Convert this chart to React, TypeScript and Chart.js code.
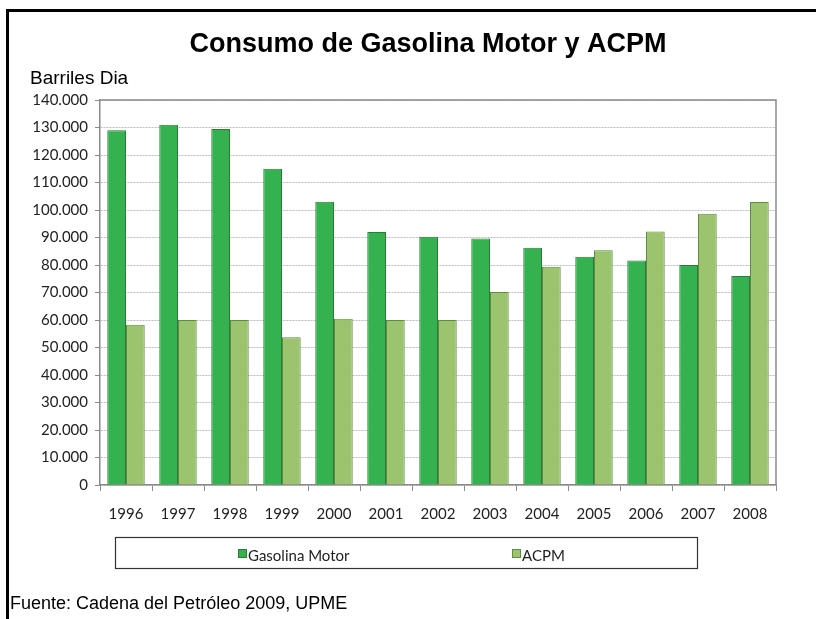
import React, { useEffect, useRef } from "react";
import { Chart, registerables } from "chart.js";

Chart.register(...registerables);

const years = ["1996", "1997", "1998", "1999", "2000", "2001", "2002", "2003", "2004", "2005", "2006", "2007", "2008"];
const gasolinaMotor = [129000, 131000, 129500, 115000, 103000, 92000, 90300, 89600, 86300, 83000, 81600, 80000, 76000];
const acpm = [58300, 60000, 60000, 53700, 60500, 60000, 60000, 70200, 79400, 85400, 92200, 98600, 102900];
const seriesLabels = ["Gasolina Motor", "ACPM"];
const yMin = 0;
const yMax = 140000;
const yStep = 10000;
const titleText = "Consumo de Gasolina Motor y ACPM";
const unitText = "Barriles Dia";
const sourceText = "Fuente: Cadena del Petróleo 2009, UPME";

const GAS_FILL = "#34B24F";
const GAS_BORDER = "#2E7A38";
const ACPM_FILL = "#9CC46F";
const ACPM_BORDER = "#5F8C40";

const fmt = (v: number) => {
  const s = Math.round(v).toString();
  return s.replace(/\B(?=(\d{3})+(?!\d))/g, ".");
};

const decorPlugin = {
  id: "decor",
  beforeDraw(chart: any) {
    const ctx = chart.ctx;
    ctx.save();
    ctx.fillStyle = "#ffffff";
    ctx.fillRect(0, 0, chart.width, chart.height);
    ctx.restore();
  },
  afterDraw(chart: any) {
    const ctx = chart.ctx;
    const area = chart.chartArea;
    ctx.save();
    // outer frame (top and left)
    ctx.fillStyle = "#000000";
    ctx.fillRect(6, 9, chart.width - 6, 3);
    ctx.fillRect(6, 9, 3, chart.height - 9);

    // plot top & right border
    ctx.strokeStyle = "#8a8a8a";
    ctx.lineWidth = 1.5;
    ctx.beginPath();
    ctx.moveTo(area.left, area.top);
    ctx.lineTo(area.right, area.top);
    ctx.lineTo(area.right, area.bottom);
    ctx.stroke();

    // title
    ctx.fillStyle = "#000000";
    ctx.font = "bold 27px 'Liberation Sans', Arial, sans-serif";
    ctx.textAlign = "center";
    ctx.textBaseline = "middle";
    ctx.fillText(titleText, 428, 45);

    // unit label
    ctx.font = "19px 'Liberation Sans', Arial, sans-serif";
    ctx.textAlign = "left";
    ctx.fillText(unitText, 30, 79);

    // legend box
    ctx.strokeStyle = "#333333";
    ctx.lineWidth = 1.2;
    ctx.strokeRect(115.5, 537.5, 582, 31);
    const ds = chart.data.datasets;
    const items = [
      { x: 238, label: ds[0].label, fill: ds[0].backgroundColor, border: ds[0].borderColor },
      { x: 512, label: ds[1].label, fill: ds[1].backgroundColor, border: ds[1].borderColor },
    ];
    ctx.font = "15px Lato, 'Open Sans', sans-serif";
    ctx.textBaseline = "middle";
    items.forEach((it) => {
      ctx.fillStyle = it.fill;
      ctx.fillRect(it.x, 549, 8, 8);
      ctx.strokeStyle = it.border;
      ctx.lineWidth = 1;
      ctx.strokeRect(it.x + 0.5, 549.5, 8, 8);
      ctx.fillStyle = "#222222";
      ctx.fillText(it.label, it.x + 10, 556);
    });

    // source
    ctx.fillStyle = "#000000";
    ctx.font = "18px 'Liberation Sans', Arial, sans-serif";
    ctx.textAlign = "left";
    ctx.fillText(sourceText, 10, 604);
    ctx.restore();
  },
};

export default function App() {
  const canvasRef = useRef<HTMLCanvasElement | null>(null);

  useEffect(() => {
    const canvas = canvasRef.current;
    if (!canvas) return;
    const chart = new Chart(canvas, {
      type: "bar",
      data: {
        labels: years,
        datasets: [
          {
            label: seriesLabels[0],
            data: gasolinaMotor,
            backgroundColor: GAS_FILL,
            borderColor: GAS_BORDER,
            borderWidth: 1,
            barPercentage: 1,
            categoryPercentage: 0.72,
          },
          {
            label: seriesLabels[1],
            data: acpm,
            backgroundColor: ACPM_FILL,
            borderColor: ACPM_BORDER,
            borderWidth: 1,
            barPercentage: 1,
            categoryPercentage: 0.72,
          },
        ],
      },
      options: {
        responsive: false,
        animation: false,
        devicePixelRatio: 1,
        layout: { padding: { left: 10, top: 100, right: 40, bottom: 89 } },
        plugins: {
          legend: { display: false },
          title: { display: false },
          tooltip: { enabled: false },
        },
        scales: {
          x: {
            afterFit: (s: any) => {
              s.height = 45;
            },
            grid: {
              display: true,
              offset: true,
              drawOnChartArea: false,
              drawTicks: true,
              tickLength: 6,
              color: "#8a8a8a",
              tickBorderDash: [],
            },
            border: { display: true, color: "#8a8a8a", width: 1.5 },
            ticks: {
              color: "#222222",
              font: { family: "Lato, 'Open Sans', sans-serif", size: 15 },
              padding: 14,
              maxRotation: 0,
            },
          },
          y: {
            min: yMin,
            max: yMax,
            afterFit: (s: any) => {
              s.width = 90;
            },
            grid: {
              color: "#bdbdbd",
              lineWidth: 1,
              drawTicks: true,
              tickLength: 5,
              tickColor: "#8a8a8a",
              tickBorderDash: [],
            },
            border: { display: true, color: "#8a8a8a", width: 1.5, dash: [2, 1] },
            ticks: {
              stepSize: yStep,
              color: "#222222",
              font: { family: "Lato, 'Open Sans', sans-serif", size: 15 },
              padding: 7,
              callback: (v: any) => fmt(Number(v)),
            },
          },
        },
      },
      plugins: [decorPlugin],
    } as any);
    return () => chart.destroy();
  }, []);

  return (
    <div style={{ position: "absolute", left: 0, top: 0, width: 816, height: 619, background: "#fff" }}>
      <canvas ref={canvasRef} width={816} height={619} style={{ display: "block" }} />
    </div>
  );
}
